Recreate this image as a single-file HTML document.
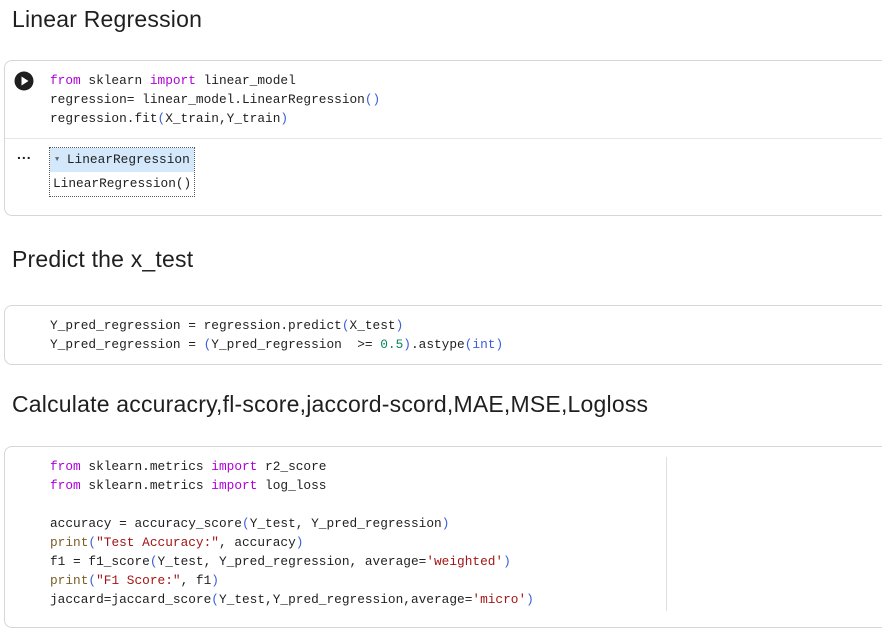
<!DOCTYPE html>
<html><head><meta charset="utf-8"><style>
body{margin:0;width:882px;height:611px;background:#fff;overflow:hidden;position:relative;font-family:"Liberation Sans",sans-serif;color:#1f1f1f}
.h{position:absolute;left:12px;font-size:23px;letter-spacing:0.2px;white-space:nowrap;line-height:1}
.cell{position:absolute;left:4px;width:890px;border:1px solid #d6d6d6;border-radius:8px;background:#fff}
.code{position:absolute;left:50px;font-family:"Liberation Mono",monospace;font-size:12.8px;line-height:19px;white-space:pre;color:#1f1f1f}
.k{color:#af00db}.p{color:#3a5fd9}.s{color:#a31515}.n{color:#098658}.f{color:#795e26}
</style></head><body>
<div class="h" style="top:8px">Linear Regression</div>
<div class="cell" style="top:60px;height:154px"></div>
<div style="position:absolute;left:5px;top:138px;width:877px;height:1px;background:#e6e6e6"></div>
<svg style="position:absolute;left:14px;top:71px" width="20" height="20"><circle cx="10" cy="10" r="9.5" fill="#1f1f1f"/><path d="M7.5 5.5 L14.5 10 L7.5 14.5Z" fill="#fff"/></svg>
<div class="code" style="top:71px"><span class="k">from</span> sklearn <span class="k">import</span> linear_model
regression= linear_model.LinearRegression<span class="p">()</span>
regression.fit<span class="p">(</span>X_train,Y_train<span class="p">)</span></div>
<div style="position:absolute;left:17px;top:146px;font-size:14px;font-weight:bold;letter-spacing:1px">...</div>
<div style="position:absolute;left:49px;top:147px;width:144px;height:48px;border:1px dotted #555;background:#fff">
<div style="height:24px;background:#d4e8fb;font-family:'Liberation Mono',monospace;font-size:12.8px;line-height:24px;padding-left:5px"><span style="font-size:7px;color:#666;vertical-align:2px">▼</span> LinearRegression</div>
<div style="font-family:'Liberation Mono',monospace;font-size:12.8px;line-height:24px;padding-left:3px">LinearRegression()</div>
</div>
<div class="h" style="top:248px">Predict the x_test</div>
<div class="cell" style="top:305px;height:58px"></div>
<div class="code" style="top:316px">Y_pred_regression = regression.predict<span class="p">(</span>X_test<span class="p">)</span>
Y_pred_regression = <span class="p">(</span>Y_pred_regression  &gt;= <span class="n">0.5</span><span class="p">)</span>.astype<span class="p">(int)</span></div>
<div class="h" style="top:393px">Calculate accuracry,fl-score,jaccord-scord,MAE,MSE,Logloss</div>
<div class="cell" style="top:446px;height:180px"></div>
<div style="position:absolute;left:666px;top:457px;width:1px;height:154px;background:#e0e0e0"></div>
<div class="code" style="top:457px"><span class="k">from</span> sklearn.metrics <span class="k">import</span> r2_score
<span class="k">from</span> sklearn.metrics <span class="k">import</span> log_loss

accuracy = accuracy_score<span class="p">(</span>Y_test, Y_pred_regression<span class="p">)</span>
<span class="f">print</span><span class="p">(</span><span class="s">"Test Accuracy:"</span>, accuracy<span class="p">)</span>
f1 = f1_score<span class="p">(</span>Y_test, Y_pred_regression, average=<span class="s">'weighted'</span><span class="p">)</span>
<span class="f">print</span><span class="p">(</span><span class="s">"F1 Score:"</span>, f1<span class="p">)</span>
jaccard=jaccard_score<span class="p">(</span>Y_test,Y_pred_regression,average=<span class="s">'micro'</span><span class="p">)</span></div>
</body></html>
